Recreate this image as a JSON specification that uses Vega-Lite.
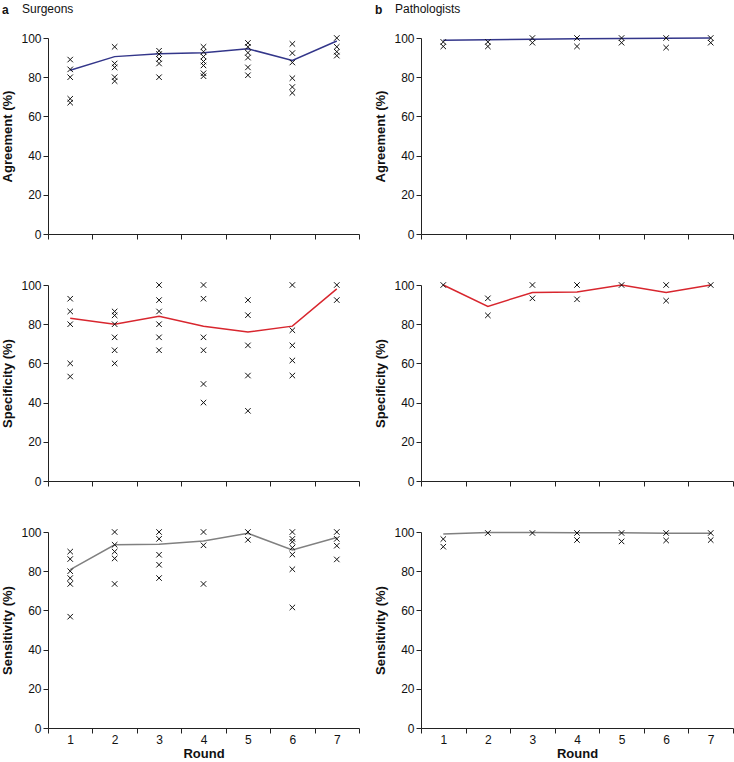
{
  "$schema": "https://vega.github.io/schema/vega-lite/v6.json",
  "padding": {"left": 1, "top": 3, "right": 0, "bottom": 0},
  "datasets": {
    "rows": [
      {"group":"Surgeons","metric":"Agreement","kind":"mean","round":1,"value":83.5},
      {"group":"Surgeons","metric":"Agreement","kind":"mean","round":2,"value":90.5},
      {"group":"Surgeons","metric":"Agreement","kind":"mean","round":3,"value":92},
      {"group":"Surgeons","metric":"Agreement","kind":"mean","round":4,"value":92.5},
      {"group":"Surgeons","metric":"Agreement","kind":"mean","round":5,"value":94.5},
      {"group":"Surgeons","metric":"Agreement","kind":"mean","round":6,"value":88.5},
      {"group":"Surgeons","metric":"Agreement","kind":"mean","round":7,"value":98.5},
      {"group":"Surgeons","metric":"Specificity","kind":"mean","round":1,"value":83},
      {"group":"Surgeons","metric":"Specificity","kind":"mean","round":2,"value":80},
      {"group":"Surgeons","metric":"Specificity","kind":"mean","round":3,"value":84},
      {"group":"Surgeons","metric":"Specificity","kind":"mean","round":4,"value":79},
      {"group":"Surgeons","metric":"Specificity","kind":"mean","round":5,"value":76},
      {"group":"Surgeons","metric":"Specificity","kind":"mean","round":6,"value":79},
      {"group":"Surgeons","metric":"Specificity","kind":"mean","round":7,"value":98},
      {"group":"Surgeons","metric":"Sensitivity","kind":"mean","round":1,"value":80.8},
      {"group":"Surgeons","metric":"Sensitivity","kind":"mean","round":2,"value":93.5},
      {"group":"Surgeons","metric":"Sensitivity","kind":"mean","round":3,"value":93.7},
      {"group":"Surgeons","metric":"Sensitivity","kind":"mean","round":4,"value":95.4},
      {"group":"Surgeons","metric":"Sensitivity","kind":"mean","round":5,"value":99.3},
      {"group":"Surgeons","metric":"Sensitivity","kind":"mean","round":6,"value":90.8},
      {"group":"Surgeons","metric":"Sensitivity","kind":"mean","round":7,"value":97.2},
      {"group":"Pathologists","metric":"Agreement","kind":"mean","round":1,"value":98.9},
      {"group":"Pathologists","metric":"Agreement","kind":"mean","round":2,"value":99.1},
      {"group":"Pathologists","metric":"Agreement","kind":"mean","round":3,"value":99.4},
      {"group":"Pathologists","metric":"Agreement","kind":"mean","round":4,"value":99.6},
      {"group":"Pathologists","metric":"Agreement","kind":"mean","round":5,"value":99.7},
      {"group":"Pathologists","metric":"Agreement","kind":"mean","round":6,"value":99.9},
      {"group":"Pathologists","metric":"Agreement","kind":"mean","round":7,"value":100},
      {"group":"Pathologists","metric":"Specificity","kind":"mean","round":1,"value":100},
      {"group":"Pathologists","metric":"Specificity","kind":"mean","round":2,"value":89.1},
      {"group":"Pathologists","metric":"Specificity","kind":"mean","round":3,"value":96.2},
      {"group":"Pathologists","metric":"Specificity","kind":"mean","round":4,"value":96.4},
      {"group":"Pathologists","metric":"Specificity","kind":"mean","round":5,"value":100},
      {"group":"Pathologists","metric":"Specificity","kind":"mean","round":6,"value":96.2},
      {"group":"Pathologists","metric":"Specificity","kind":"mean","round":7,"value":100},
      {"group":"Pathologists","metric":"Sensitivity","kind":"mean","round":1,"value":99},
      {"group":"Pathologists","metric":"Sensitivity","kind":"mean","round":2,"value":99.7},
      {"group":"Pathologists","metric":"Sensitivity","kind":"mean","round":3,"value":99.7},
      {"group":"Pathologists","metric":"Sensitivity","kind":"mean","round":4,"value":99.6},
      {"group":"Pathologists","metric":"Sensitivity","kind":"mean","round":5,"value":99.6},
      {"group":"Pathologists","metric":"Sensitivity","kind":"mean","round":6,"value":99.4},
      {"group":"Pathologists","metric":"Sensitivity","kind":"mean","round":7,"value":99.4},

      {"group":"Surgeons","metric":"Agreement","kind":"point","round":1,"value":89},
      {"group":"Surgeons","metric":"Agreement","kind":"point","round":1,"value":84},
      {"group":"Surgeons","metric":"Agreement","kind":"point","round":1,"value":80},
      {"group":"Surgeons","metric":"Agreement","kind":"point","round":1,"value":69},
      {"group":"Surgeons","metric":"Agreement","kind":"point","round":1,"value":67},
      {"group":"Surgeons","metric":"Agreement","kind":"point","round":2,"value":95.5},
      {"group":"Surgeons","metric":"Agreement","kind":"point","round":2,"value":87},
      {"group":"Surgeons","metric":"Agreement","kind":"point","round":2,"value":85},
      {"group":"Surgeons","metric":"Agreement","kind":"point","round":2,"value":80},
      {"group":"Surgeons","metric":"Agreement","kind":"point","round":2,"value":78},
      {"group":"Surgeons","metric":"Agreement","kind":"point","round":3,"value":93.5},
      {"group":"Surgeons","metric":"Agreement","kind":"point","round":3,"value":91.8},
      {"group":"Surgeons","metric":"Agreement","kind":"point","round":3,"value":89.3},
      {"group":"Surgeons","metric":"Agreement","kind":"point","round":3,"value":87},
      {"group":"Surgeons","metric":"Agreement","kind":"point","round":3,"value":80},
      {"group":"Surgeons","metric":"Agreement","kind":"point","round":4,"value":95.5},
      {"group":"Surgeons","metric":"Agreement","kind":"point","round":4,"value":93},
      {"group":"Surgeons","metric":"Agreement","kind":"point","round":4,"value":90.5},
      {"group":"Surgeons","metric":"Agreement","kind":"point","round":4,"value":88},
      {"group":"Surgeons","metric":"Agreement","kind":"point","round":4,"value":86},
      {"group":"Surgeons","metric":"Agreement","kind":"point","round":4,"value":82},
      {"group":"Surgeons","metric":"Agreement","kind":"point","round":4,"value":80.5},
      {"group":"Surgeons","metric":"Agreement","kind":"point","round":5,"value":97.5},
      {"group":"Surgeons","metric":"Agreement","kind":"point","round":5,"value":95.5},
      {"group":"Surgeons","metric":"Agreement","kind":"point","round":5,"value":92.5},
      {"group":"Surgeons","metric":"Agreement","kind":"point","round":5,"value":90},
      {"group":"Surgeons","metric":"Agreement","kind":"point","round":5,"value":85},
      {"group":"Surgeons","metric":"Agreement","kind":"point","round":5,"value":81},
      {"group":"Surgeons","metric":"Agreement","kind":"point","round":6,"value":97},
      {"group":"Surgeons","metric":"Agreement","kind":"point","round":6,"value":92.3},
      {"group":"Surgeons","metric":"Agreement","kind":"point","round":6,"value":87.5},
      {"group":"Surgeons","metric":"Agreement","kind":"point","round":6,"value":79.5},
      {"group":"Surgeons","metric":"Agreement","kind":"point","round":6,"value":75},
      {"group":"Surgeons","metric":"Agreement","kind":"point","round":6,"value":72},
      {"group":"Surgeons","metric":"Agreement","kind":"point","round":7,"value":100},
      {"group":"Surgeons","metric":"Agreement","kind":"point","round":7,"value":95.5},
      {"group":"Surgeons","metric":"Agreement","kind":"point","round":7,"value":93},
      {"group":"Surgeons","metric":"Agreement","kind":"point","round":7,"value":91},

      {"group":"Surgeons","metric":"Specificity","kind":"point","round":1,"value":93},
      {"group":"Surgeons","metric":"Specificity","kind":"point","round":1,"value":86.5},
      {"group":"Surgeons","metric":"Specificity","kind":"point","round":1,"value":80},
      {"group":"Surgeons","metric":"Specificity","kind":"point","round":1,"value":60},
      {"group":"Surgeons","metric":"Specificity","kind":"point","round":1,"value":53.3},
      {"group":"Surgeons","metric":"Specificity","kind":"point","round":2,"value":86.5},
      {"group":"Surgeons","metric":"Specificity","kind":"point","round":2,"value":84.5},
      {"group":"Surgeons","metric":"Specificity","kind":"point","round":2,"value":80},
      {"group":"Surgeons","metric":"Specificity","kind":"point","round":2,"value":73.3},
      {"group":"Surgeons","metric":"Specificity","kind":"point","round":2,"value":66.7},
      {"group":"Surgeons","metric":"Specificity","kind":"point","round":2,"value":60},
      {"group":"Surgeons","metric":"Specificity","kind":"point","round":3,"value":100},
      {"group":"Surgeons","metric":"Specificity","kind":"point","round":3,"value":92.3},
      {"group":"Surgeons","metric":"Specificity","kind":"point","round":3,"value":86.5},
      {"group":"Surgeons","metric":"Specificity","kind":"point","round":3,"value":80},
      {"group":"Surgeons","metric":"Specificity","kind":"point","round":3,"value":73.3},
      {"group":"Surgeons","metric":"Specificity","kind":"point","round":3,"value":66.7},
      {"group":"Surgeons","metric":"Specificity","kind":"point","round":4,"value":100},
      {"group":"Surgeons","metric":"Specificity","kind":"point","round":4,"value":93},
      {"group":"Surgeons","metric":"Specificity","kind":"point","round":4,"value":73.3},
      {"group":"Surgeons","metric":"Specificity","kind":"point","round":4,"value":66.7},
      {"group":"Surgeons","metric":"Specificity","kind":"point","round":4,"value":49.5},
      {"group":"Surgeons","metric":"Specificity","kind":"point","round":4,"value":40},
      {"group":"Surgeons","metric":"Specificity","kind":"point","round":5,"value":92.3},
      {"group":"Surgeons","metric":"Specificity","kind":"point","round":5,"value":84.6},
      {"group":"Surgeons","metric":"Specificity","kind":"point","round":5,"value":69.2},
      {"group":"Surgeons","metric":"Specificity","kind":"point","round":5,"value":53.8},
      {"group":"Surgeons","metric":"Specificity","kind":"point","round":5,"value":35.8},
      {"group":"Surgeons","metric":"Specificity","kind":"point","round":6,"value":100},
      {"group":"Surgeons","metric":"Specificity","kind":"point","round":6,"value":76.9},
      {"group":"Surgeons","metric":"Specificity","kind":"point","round":6,"value":69.2},
      {"group":"Surgeons","metric":"Specificity","kind":"point","round":6,"value":61.5},
      {"group":"Surgeons","metric":"Specificity","kind":"point","round":6,"value":53.8},
      {"group":"Surgeons","metric":"Specificity","kind":"point","round":7,"value":100},
      {"group":"Surgeons","metric":"Specificity","kind":"point","round":7,"value":92.3},

      {"group":"Surgeons","metric":"Sensitivity","kind":"point","round":1,"value":90},
      {"group":"Surgeons","metric":"Sensitivity","kind":"point","round":1,"value":86.2},
      {"group":"Surgeons","metric":"Sensitivity","kind":"point","round":1,"value":80},
      {"group":"Surgeons","metric":"Sensitivity","kind":"point","round":1,"value":76.5},
      {"group":"Surgeons","metric":"Sensitivity","kind":"point","round":1,"value":73.5},
      {"group":"Surgeons","metric":"Sensitivity","kind":"point","round":1,"value":56.8},
      {"group":"Surgeons","metric":"Sensitivity","kind":"point","round":2,"value":100},
      {"group":"Surgeons","metric":"Sensitivity","kind":"point","round":2,"value":93.5},
      {"group":"Surgeons","metric":"Sensitivity","kind":"point","round":2,"value":90},
      {"group":"Surgeons","metric":"Sensitivity","kind":"point","round":2,"value":86.5},
      {"group":"Surgeons","metric":"Sensitivity","kind":"point","round":2,"value":73.5},
      {"group":"Surgeons","metric":"Sensitivity","kind":"point","round":3,"value":100},
      {"group":"Surgeons","metric":"Sensitivity","kind":"point","round":3,"value":96.5},
      {"group":"Surgeons","metric":"Sensitivity","kind":"point","round":3,"value":88.4},
      {"group":"Surgeons","metric":"Sensitivity","kind":"point","round":3,"value":83.3},
      {"group":"Surgeons","metric":"Sensitivity","kind":"point","round":3,"value":76.5},
      {"group":"Surgeons","metric":"Sensitivity","kind":"point","round":4,"value":100},
      {"group":"Surgeons","metric":"Sensitivity","kind":"point","round":4,"value":93.2},
      {"group":"Surgeons","metric":"Sensitivity","kind":"point","round":4,"value":73.5},
      {"group":"Surgeons","metric":"Sensitivity","kind":"point","round":5,"value":100},
      {"group":"Surgeons","metric":"Sensitivity","kind":"point","round":5,"value":96},
      {"group":"Surgeons","metric":"Sensitivity","kind":"point","round":6,"value":100},
      {"group":"Surgeons","metric":"Sensitivity","kind":"point","round":6,"value":96.5},
      {"group":"Surgeons","metric":"Sensitivity","kind":"point","round":6,"value":95},
      {"group":"Surgeons","metric":"Sensitivity","kind":"point","round":6,"value":92},
      {"group":"Surgeons","metric":"Sensitivity","kind":"point","round":6,"value":88.5},
      {"group":"Surgeons","metric":"Sensitivity","kind":"point","round":6,"value":81},
      {"group":"Surgeons","metric":"Sensitivity","kind":"point","round":6,"value":61.5},
      {"group":"Surgeons","metric":"Sensitivity","kind":"point","round":7,"value":100},
      {"group":"Surgeons","metric":"Sensitivity","kind":"point","round":7,"value":96.5},
      {"group":"Surgeons","metric":"Sensitivity","kind":"point","round":7,"value":93},
      {"group":"Surgeons","metric":"Sensitivity","kind":"point","round":7,"value":86},

      {"group":"Pathologists","metric":"Agreement","kind":"point","round":1,"value":98},
      {"group":"Pathologists","metric":"Agreement","kind":"point","round":1,"value":95.7},
      {"group":"Pathologists","metric":"Agreement","kind":"point","round":2,"value":98},
      {"group":"Pathologists","metric":"Agreement","kind":"point","round":2,"value":95.7},
      {"group":"Pathologists","metric":"Agreement","kind":"point","round":3,"value":100},
      {"group":"Pathologists","metric":"Agreement","kind":"point","round":3,"value":97.6},
      {"group":"Pathologists","metric":"Agreement","kind":"point","round":4,"value":100},
      {"group":"Pathologists","metric":"Agreement","kind":"point","round":4,"value":95.7},
      {"group":"Pathologists","metric":"Agreement","kind":"point","round":5,"value":100},
      {"group":"Pathologists","metric":"Agreement","kind":"point","round":5,"value":97.6},
      {"group":"Pathologists","metric":"Agreement","kind":"point","round":6,"value":100},
      {"group":"Pathologists","metric":"Agreement","kind":"point","round":6,"value":95.1},
      {"group":"Pathologists","metric":"Agreement","kind":"point","round":7,"value":100},
      {"group":"Pathologists","metric":"Agreement","kind":"point","round":7,"value":97.6},

      {"group":"Pathologists","metric":"Specificity","kind":"point","round":1,"value":100},
      {"group":"Pathologists","metric":"Specificity","kind":"point","round":2,"value":93.2},
      {"group":"Pathologists","metric":"Specificity","kind":"point","round":2,"value":84.5},
      {"group":"Pathologists","metric":"Specificity","kind":"point","round":3,"value":100},
      {"group":"Pathologists","metric":"Specificity","kind":"point","round":3,"value":93.2},
      {"group":"Pathologists","metric":"Specificity","kind":"point","round":4,"value":100},
      {"group":"Pathologists","metric":"Specificity","kind":"point","round":4,"value":92.7},
      {"group":"Pathologists","metric":"Specificity","kind":"point","round":5,"value":100},
      {"group":"Pathologists","metric":"Specificity","kind":"point","round":6,"value":100},
      {"group":"Pathologists","metric":"Specificity","kind":"point","round":6,"value":92},
      {"group":"Pathologists","metric":"Specificity","kind":"point","round":7,"value":100},

      {"group":"Pathologists","metric":"Sensitivity","kind":"point","round":1,"value":96.4},
      {"group":"Pathologists","metric":"Sensitivity","kind":"point","round":1,"value":92.5},
      {"group":"Pathologists","metric":"Sensitivity","kind":"point","round":2,"value":99.5},
      {"group":"Pathologists","metric":"Sensitivity","kind":"point","round":3,"value":99.5},
      {"group":"Pathologists","metric":"Sensitivity","kind":"point","round":4,"value":99.5},
      {"group":"Pathologists","metric":"Sensitivity","kind":"point","round":4,"value":95.9},
      {"group":"Pathologists","metric":"Sensitivity","kind":"point","round":5,"value":99.5},
      {"group":"Pathologists","metric":"Sensitivity","kind":"point","round":5,"value":95.2},
      {"group":"Pathologists","metric":"Sensitivity","kind":"point","round":6,"value":99.5},
      {"group":"Pathologists","metric":"Sensitivity","kind":"point","round":6,"value":95.7},
      {"group":"Pathologists","metric":"Sensitivity","kind":"point","round":7,"value":99.5},
      {"group":"Pathologists","metric":"Sensitivity","kind":"point","round":7,"value":95.9}
    ]
  },
  "data": {"name": "rows"},
  "config": {
    "font": "Liberation Sans",
    "view": {"stroke": null},
    "axis": {
      "domainColor": "#222222", "tickColor": "#222222", "labelColor": "#111111", "titleColor": "#111111",
      "labelFont": "Liberation Sans", "titleFont": "Liberation Sans",
      "labelFontSize": 12, "titleFontSize": 13, "titleFontWeight": "bold",
      "tickSize": 5, "grid": false, "labelPadding": 2
    },
    "title": {"font": "Liberation Sans", "color": "#111111"},
    "concat": {"spacing": 14}
  },
  "hconcat": [
    {
      "title": {"text": "Surgeons", "anchor": "start", "fontWeight": "normal", "fontSize": 12, "dx": 20, "dy": 16},
      "spacing": 39,
      "vconcat": [
        {
          "title": {"text": "a", "anchor": "start", "fontWeight": "bold", "fontSize": 12, "offset": 15},
          "width": 311, "height": 196,
          "transform": [{"filter": "datum.group === 'Surgeons' && datum.metric === 'Agreement'"}],
          "encoding": {
            "x": {"field": "round", "type": "ordinal", "scale": {"type": "band", "domain": [1,2,3,4,5,6,7], "paddingInner": 0, "paddingOuter": 0}, "axis": {"labels": false, "title": null, "tickBand": "extent"}},
            "y": {"field": "value", "type": "quantitative", "scale": {"domain": [0, 100], "nice": false}, "axis": {"title": "Agreement (%)", "values": [0,20,40,60,80,100], "titlePadding": 6}}
          },
          "layer": [
            {"transform": [{"filter": "datum.kind === 'mean'"}], "mark": {"type": "line", "color": "#33368a", "strokeWidth": 1.5}},
            {"transform": [{"filter": "datum.kind === 'point'"}], "mark": {"type": "point", "shape": "M-1,-1L1,1M1,-1L-1,1", "size": 30, "filled": false, "stroke": "#111111", "strokeWidth": 1, "opacity": 1}}
          ]
        },
        {
          "width": 311, "height": 196,
          "transform": [{"filter": "datum.group === 'Surgeons' && datum.metric === 'Specificity'"}],
          "encoding": {
            "x": {"field": "round", "type": "ordinal", "scale": {"type": "band", "domain": [1,2,3,4,5,6,7], "paddingInner": 0, "paddingOuter": 0}, "axis": {"labels": false, "title": null, "tickBand": "extent"}},
            "y": {"field": "value", "type": "quantitative", "scale": {"domain": [0, 100], "nice": false}, "axis": {"title": "Specificity (%)", "values": [0,20,40,60,80,100], "titlePadding": 6}}
          },
          "layer": [
            {"transform": [{"filter": "datum.kind === 'mean'"}], "mark": {"type": "line", "color": "#d8262e", "strokeWidth": 1.5}},
            {"transform": [{"filter": "datum.kind === 'point'"}], "mark": {"type": "point", "shape": "M-1,-1L1,1M1,-1L-1,1", "size": 30, "filled": false, "stroke": "#111111", "strokeWidth": 1, "opacity": 1}}
          ]
        },
        {
          "width": 311, "height": 196,
          "transform": [{"filter": "datum.group === 'Surgeons' && datum.metric === 'Sensitivity'"}],
          "encoding": {
            "x": {"field": "round", "type": "ordinal", "scale": {"type": "band", "domain": [1,2,3,4,5,6,7], "paddingInner": 0, "paddingOuter": 0}, "axis": {"labelAngle": 0, "title": "Round", "tickBand": "extent", "labelPadding": 1, "titlePadding": 2}},
            "y": {"field": "value", "type": "quantitative", "scale": {"domain": [0, 100], "nice": false}, "axis": {"title": "Sensitivity (%)", "values": [0,20,40,60,80,100], "titlePadding": 6}}
          },
          "layer": [
            {"transform": [{"filter": "datum.kind === 'mean'"}], "mark": {"type": "line", "color": "#808080", "strokeWidth": 1.5}},
            {"transform": [{"filter": "datum.kind === 'point'"}], "mark": {"type": "point", "shape": "M-1,-1L1,1M1,-1L-1,1", "size": 30, "filled": false, "stroke": "#111111", "strokeWidth": 1, "opacity": 1}}
          ]
        }
      ]
    },
    {
      "title": {"text": "Pathologists", "anchor": "start", "fontWeight": "normal", "fontSize": 12, "dx": 20, "dy": 16},
      "spacing": 39,
      "vconcat": [
        {
          "title": {"text": "b", "anchor": "start", "fontWeight": "bold", "fontSize": 12, "offset": 15},
          "width": 312, "height": 196,
          "transform": [{"filter": "datum.group === 'Pathologists' && datum.metric === 'Agreement'"}],
          "encoding": {
            "x": {"field": "round", "type": "ordinal", "scale": {"type": "band", "domain": [1,2,3,4,5,6,7], "paddingInner": 0, "paddingOuter": 0}, "axis": {"labels": false, "title": null, "tickBand": "extent"}},
            "y": {"field": "value", "type": "quantitative", "scale": {"domain": [0, 100], "nice": false}, "axis": {"title": "Agreement (%)", "values": [0,20,40,60,80,100], "titlePadding": 6}}
          },
          "layer": [
            {"transform": [{"filter": "datum.kind === 'mean'"}], "mark": {"type": "line", "color": "#33368a", "strokeWidth": 1.5}},
            {"transform": [{"filter": "datum.kind === 'point'"}], "mark": {"type": "point", "shape": "M-1,-1L1,1M1,-1L-1,1", "size": 30, "filled": false, "stroke": "#111111", "strokeWidth": 1, "opacity": 1}}
          ]
        },
        {
          "width": 312, "height": 196,
          "transform": [{"filter": "datum.group === 'Pathologists' && datum.metric === 'Specificity'"}],
          "encoding": {
            "x": {"field": "round", "type": "ordinal", "scale": {"type": "band", "domain": [1,2,3,4,5,6,7], "paddingInner": 0, "paddingOuter": 0}, "axis": {"labels": false, "title": null, "tickBand": "extent"}},
            "y": {"field": "value", "type": "quantitative", "scale": {"domain": [0, 100], "nice": false}, "axis": {"title": "Specificity (%)", "values": [0,20,40,60,80,100], "titlePadding": 6}}
          },
          "layer": [
            {"transform": [{"filter": "datum.kind === 'mean'"}], "mark": {"type": "line", "color": "#d8262e", "strokeWidth": 1.5}},
            {"transform": [{"filter": "datum.kind === 'point'"}], "mark": {"type": "point", "shape": "M-1,-1L1,1M1,-1L-1,1", "size": 30, "filled": false, "stroke": "#111111", "strokeWidth": 1, "opacity": 1}}
          ]
        },
        {
          "width": 312, "height": 196,
          "transform": [{"filter": "datum.group === 'Pathologists' && datum.metric === 'Sensitivity'"}],
          "encoding": {
            "x": {"field": "round", "type": "ordinal", "scale": {"type": "band", "domain": [1,2,3,4,5,6,7], "paddingInner": 0, "paddingOuter": 0}, "axis": {"labelAngle": 0, "title": "Round", "tickBand": "extent", "labelPadding": 1, "titlePadding": 2}},
            "y": {"field": "value", "type": "quantitative", "scale": {"domain": [0, 100], "nice": false}, "axis": {"title": "Sensitivity (%)", "values": [0,20,40,60,80,100], "titlePadding": 6}}
          },
          "layer": [
            {"transform": [{"filter": "datum.kind === 'mean'"}], "mark": {"type": "line", "color": "#808080", "strokeWidth": 1.5}},
            {"transform": [{"filter": "datum.kind === 'point'"}], "mark": {"type": "point", "shape": "M-1,-1L1,1M1,-1L-1,1", "size": 30, "filled": false, "stroke": "#111111", "strokeWidth": 1, "opacity": 1}}
          ]
        }
      ]
    }
  ]
}
